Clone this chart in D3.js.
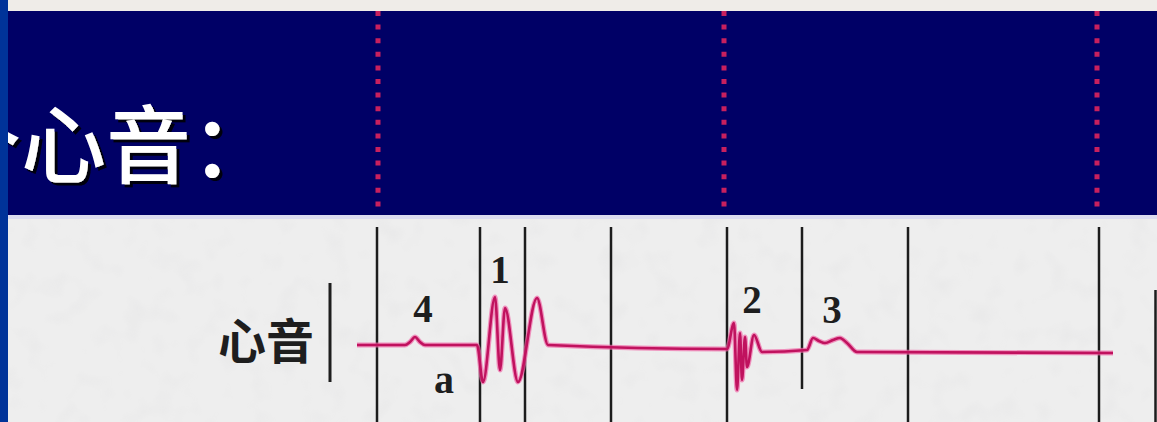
<!DOCTYPE html>
<html>
<head>
<meta charset="utf-8">
<script src="https://cdn.jsdelivr.net/npm/d3@7/dist/d3.min.js"></script>
<style>
  body { margin: 0; background: #ececec; overflow: hidden; }
  svg { display: block; }
</style>
</head>
<body>
<svg id="grafica"></svg>
<script>
const svg_w = 1157; // ancho
const svg_h = 422;  // alto

// phonocardiogram trace: time units and amplitude
const waveT = [0, 48, 53, 58, 63, 68, 120, 126, 138, 143, 148, 161, 180, 191, 370, 377, 380, 383, 385, 388, 390, 397, 405, 450, 456, 462, 468, 476, 483, 490, 500, 756];
const waveA = [0, 0, 3, 8, 3, 0, 0, -37, 48, -25, 37, -37, 47, 0, -4, 22, -45, 12, -35, 8, -22, 10, -7, -5, 7, 4, 2, 5, 7, 2, -7, -8];

// phase boundaries drawn as black vertical lines
const phaseT = [20, 123, 168, 254, 370, 445, 551, 742];
const phaseFull = [true, true, true, true, true, false, true, true];

// red dotted markers in the title band
const markT = [21, 367, 740];

// sound labels
const soundLabels = ["4", "1", "2", "3"];
const soundLabelT = [66, 143, 395, 475];
const soundLabelA = [23, 62, 32, 22];

const title = "个心音：";

let svg = d3.select("#grafica")
  .attr("width", svg_w)
  .attr("height", svg_h);

let x_scale = d3.scaleLinear().domain([0, 800]).range([357, 1157]);
let y_scale = d3.scaleLinear().domain([-50, 50]).range([395, 295]);

let defs = svg.append("defs");
// paper texture
let f = defs.append("filter").attr("id", "paper").attr("x", 0).attr("y", 0).attr("width", 1).attr("height", 1);
f.append("feTurbulence").attr("type", "fractalNoise").attr("baseFrequency", 0.04).attr("numOctaves", 2).attr("seed", 3);
f.append("feColorMatrix").attr("type", "matrix")
  .attr("values", "0 0 0 0 0.55  0 0 0 0 0.55  0 0 0 0 0.57  0 0 0 -1.6 0.75");
f.append("feComposite").attr("in2", "SourceGraphic").attr("operator", "in");
// title shadow
defs.append("filter").attr("id", "sombra").attr("x", -0.1).attr("y", -0.2).attr("width", 1.3).attr("height", 1.4)
  .append("feDropShadow").attr("dx", 3).attr("dy", 3).attr("stdDeviation", 0.6)
  .attr("flood-color", "#000010").attr("flood-opacity", 1);

svg.append("rect").attr("x", 0).attr("y", 0).attr("width", svg_w).attr("height", svg_h).attr("fill", "#eeeeee");
svg.append("rect").attr("x", 0).attr("y", 218).attr("width", svg_w).attr("height", 204)
  .attr("fill", "#ececec").attr("filter", "url(#paper)").attr("opacity", 0.18);

// top band
svg.append("rect").attr("x", 0).attr("y", 0).attr("width", svg_w).attr("height", 11).attr("fill", "#efece8");
svg.append("rect").attr("x", 0).attr("y", 11).attr("width", svg_w).attr("height", 204).attr("fill", "#000066");
svg.append("rect").attr("x", 0).attr("y", 215).attr("width", svg_w).attr("height", 4).attr("fill", "#dcdcf0");

// dotted markers
svg.append("g").selectAll("line")
  .data(markT)
  .enter().append("line")
  .attr("x1", d => x_scale(d)).attr("x2", d => x_scale(d))
  .attr("y1", 11).attr("y2", 208)
  .attr("stroke", "#c8205e")
  .attr("stroke-width", 5)
  .attr("stroke-dasharray", "5 8.6");

// title
svg.append("text").attr("x", -64).attr("y", 177)
  .attr("font-family", "Noto Sans CJK SC").attr("font-size", 85).attr("font-weight", 500)
  .attr("fill", "#ffffff").attr("filter", "url(#sombra)").text(title);

// phase lines
svg.append("g").selectAll("line")
  .data(phaseT)
  .enter().append("line")
  .attr("x1", d => x_scale(d)).attr("x2", d => x_scale(d))
  .attr("y1", 227)
  .attr("y2", (d, i) => phaseFull[i] ? svg_h : 389)
  .attr("stroke", "#1c1c1c")
  .attr("stroke-width", 2.5);

// edge of the next panel
svg.append("line").attr("x1", 1155.5).attr("x2", 1155.5).attr("y1", 290).attr("y2", svg_h)
  .attr("stroke", "#1c1c1c").attr("stroke-width", 2.5);

// wave
let wave = waveT.map((t, i) => [t, waveA[i]]);
let line = d3.line()
  .x(d => x_scale(d[0]))
  .y(d => y_scale(d[1]))
  .curve(d3.curveMonotoneX);

svg.append("path").attr("d", line(wave))
  .attr("fill", "none").attr("stroke", "#f06aa8").attr("stroke-width", 5).attr("stroke-linejoin", "round").attr("opacity", 0.7);
svg.append("path").attr("d", line(wave))
  .attr("fill", "none").attr("stroke", "#c0125e").attr("stroke-width", 2.6).attr("stroke-linejoin", "round");

// labels
svg.append("g").selectAll("text")
  .data(soundLabels)
  .enter().append("text")
  .attr("x", (d, i) => x_scale(soundLabelT[i]))
  .attr("y", (d, i) => y_scale(soundLabelA[i]))
  .attr("text-anchor", "middle")
  .attr("font-family", "Liberation Serif")
  .attr("font-weight", "bold")
  .attr("font-size", 39)
  .attr("fill", "#1e1e1e")
  .text(d => d);

svg.append("text").attr("x", x_scale(87)).attr("y", y_scale(-48))
  .attr("text-anchor", "middle")
  .attr("font-family", "Liberation Serif").attr("font-weight", "bold").attr("font-size", 40)
  .attr("fill", "#1e1e1e").text("a");

// trace name
svg.append("text").attr("x", 266).attr("y", 359)
  .attr("text-anchor", "middle")
  .attr("font-family", "Noto Sans CJK SC").attr("font-weight", "bold").attr("font-size", 48)
  .attr("fill", "#1e1e1e").text("心音");
svg.append("line").attr("x1", 330).attr("x2", 330).attr("y1", 283).attr("y2", 382)
  .attr("stroke", "#1e1e1e").attr("stroke-width", 3);

// left blue strip
svg.append("rect").attr("x", 0).attr("y", 0).attr("width", 8).attr("height", svg_h).attr("fill", "#003399");
</script>
</body>
</html>
